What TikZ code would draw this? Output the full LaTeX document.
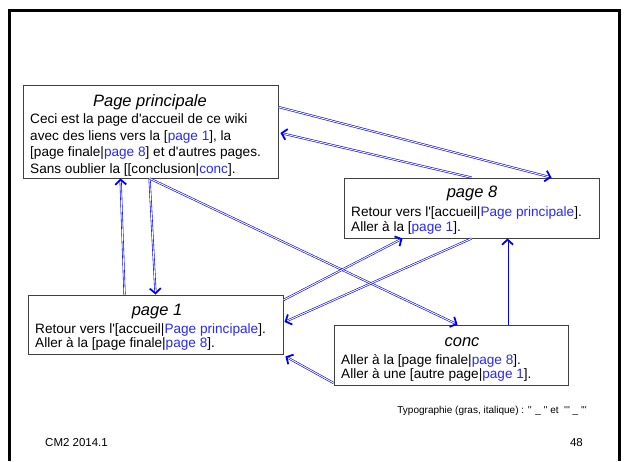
\documentclass[tikz,border=0pt]{standalone}
\usepackage{fontspec}
\setmainfont{Liberation Sans}
\newfontfamily\arial{Liberation Sans}
\usetikzlibrary{arrows.meta}
\definecolor{lnkc}{RGB}{40,40,255}
\definecolor{arrc}{RGB}{0,0,255}
\newcommand{\lk}[1]{\textcolor{lnkc}{#1}}
\begin{document}
\begin{tikzpicture}[x=1pt,y=-1pt,
  box/.style={draw=black!75, line width=0.9pt, inner sep=0pt},
  ttl/.style={font=\arial\fontsize{16.5}{18}\selectfont\itshape, anchor=base, inner sep=0pt},
  txt/.style={font=\arial\fontsize{13.6}{15}\selectfont, anchor=base west, inner sep=0pt},
  foot/.style={font=\arial\fontsize{11.5}{13}\selectfont, inner sep=0pt},
  lnk/.style={draw=arrc, line width=0.6pt, double=white, double distance=0.9pt,
    -{Straight Barb[length=5pt,width=11pt,line width=1.8pt]}}]
\useasboundingbox (0,0) rectangle (624,461);
% slide frame
\draw[line width=3pt] (9.5,461) -- (9.5,10.5) -- (619.5,10.5) -- (619.5,461);
% boxes
\node[box, minimum width=255pt, minimum height=93pt] (pp) at (150.5,131.5) {};
\node[box, minimum width=255pt, minimum height=60pt] (p8) at (471.5,208) {};
\node[box, minimum width=255pt, minimum height=59pt] (p1) at (155.5,324.5) {};
\node[box, minimum width=234pt, minimum height=60pt] (cc) at (451,355) {};
% texts: page principale
\node[ttl] (ppt) at (150,106) {Page principale};
\node[txt] (pp1) at (30,123.3) {Ceci est la page d'accueil de ce wiki};
\node[txt] (pp2) at (30,140) {avec des liens vers la [\lk{page 1}], la};
\node[txt] (pp3) at (30,156.7) {[page finale|\lk{page 8}] et d'autres pages.};
\node[txt] (pp4) at (30,173.3) {Sans oublier la [[conclusion|\lk{conc}].};
% page 8
\node[ttl] (p8t) at (472,197.3) {page 8};
\node[txt] (p81) at (351,216.7) {Retour vers l'[accueil|\lk{Page principale}].};
\node[txt] (p82) at (351,231.7) {Aller à la [\lk{page 1}].};
% page 1
\node[ttl] (p1t) at (157,315) {page 1};
\node[txt] (p11) at (35,333.3) {Retour vers l'[accueil|\lk{Page principale}].};
\node[txt] (p12) at (35,347.3) {Aller à la [page finale|\lk{page 8}].};
% conc
\node[ttl] (cct) at (462,346) {conc};
\node[txt] (cc1) at (341,364.3) {Aller à la [page finale|\lk{page 8}].};
\node[txt] (cc2) at (341,378.3) {Aller à une [autre page|\lk{page 1}].};
% footer
\node[font=\arial\fontsize{10}{12}\selectfont, inner sep=0pt, anchor=base east] (typo) at (587,413)
  {Typographie (gras, italique) : '' \_ '' et \ ''' \_ '''};
\node[foot, anchor=base west] (cm2) at (45,446) {CM2 2014.1};
\node[foot, anchor=base east] (num) at (583,446) {48};
% connectors
\draw[lnk] ([yshift=24.5pt]pp.east) -- ([xshift=208pt]p8.north west);
\draw[lnk] ([xshift=128pt]p8.north west) -- ([xshift=2pt,yshift=-1.5pt]pp.east);
\draw[lnk] ([xshift=127pt]pp.south west) -- ([xshift=128pt]p1.north west);
\draw[lnk] ([xshift=97pt]p1.north west) -- ([xshift=98pt]pp.south west);
\draw[lnk] ([xshift=127pt]pp.south west) -- ([xshift=124pt]cc.north west);
\draw[lnk] ([yshift=24.5pt]p1.east) -- ([xshift=59pt]p8.south west);
\draw[lnk] ([xshift=128pt]p8.south west) -- ([xshift=1pt,yshift=2.5pt]p1.east);
\draw[lnk] ([xshift=174pt]cc.north west) -- ([xshift=164pt]p8.south west);
\draw[lnk] ([yshift=-28pt]cc.west) -- ([xshift=2pt,yshift=-2pt]p1.south east);
\end{tikzpicture}
\end{document}
